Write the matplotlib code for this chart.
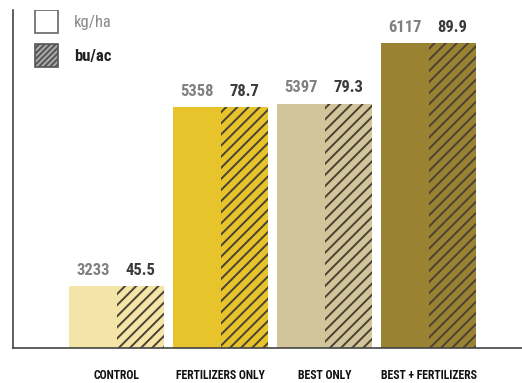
import numpy as np
import matplotlib
matplotlib.use("Agg")
import matplotlib.pyplot as plt
from matplotlib.patches import Rectangle

# yields per treatment
categories = ["CONTROL", "FERTILIZERS ONLY", "BEST ONLY", "BEST + FERTILIZERS"]
kg_ha = [3233, 5358, 5397, 6117]
bu_ac = [45.5, 78.7, 79.3, 89.9]
colors = ["#F5E4A8", "#E8C42C", "#D3C59B", "#9A8233"]

FONT = ["Roboto Condensed", "Archivo Narrow", "DejaVu Sans"]
plt.rcParams["hatch.linewidth"] = 1.4
plt.rcParams["hatch.color"] = "#4a4232"

fig = plt.figure(figsize=(5.22, 3.83), dpi=100)
ax = fig.add_axes([0.025, 0.0914, 0.975, 0.883])

x = np.arange(len(categories))
w = 0.457
# both units are drawn at the same bar height in the original
ax.bar(x - w / 2, kg_ha, w, color=colors, linewidth=0)
ax.bar(x + w / 2, kg_ha, w, color=colors, hatch="///", linewidth=0)

for i in range(len(categories)):
    ax.text(x[i] - w / 2, kg_ha[i] + 100, str(kg_ha[i]), ha="center", va="bottom",
            fontsize=12, color="#808080", fontweight="bold", family=FONT)
    ax.text(x[i] + w / 2, kg_ha[i] + 100, "%.1f" % bu_ac[i], ha="center", va="bottom",
            fontsize=12, color="#3a3a3a", fontweight="bold", family=FONT)
    ax.text(x[i], -0.062, categories[i], transform=ax.get_xaxis_transform(),
            ha="center", va="top", fontsize=8.5, color="#111111", fontweight="bold",
            family=FONT)

ax.set_xlim(-0.995, 3.899)
ax.set_ylim(2500, 6510)
ax.set_xticks([])
ax.set_yticks([])
for s in ["top", "right"]:
    ax.spines[s].set_visible(False)
for s in ["left", "bottom"]:
    ax.spines[s].set_color("#444444")
    ax.spines[s].set_linewidth(1.2)

# legend
ax.add_patch(Rectangle((35, 350), 23, 23, transform=None, facecolor="white",
                       edgecolor="#666666", linewidth=1.2))
ax.add_patch(Rectangle((35, 316), 23, 23, transform=None, facecolor="#aaaaaa",
                       edgecolor="#555555", hatch="//////", linewidth=1.2))
fig.text(74 / 522, 1 - 22 / 383, "kg/ha", fontsize=12, color="#8a8a8a",
         va="center", family=FONT)
fig.text(74 / 522, 1 - 56 / 383, "bu/ac", fontsize=12, color="#222222",
         fontweight="bold", va="center", family=FONT)

fig.savefig("out.png", dpi=100)
